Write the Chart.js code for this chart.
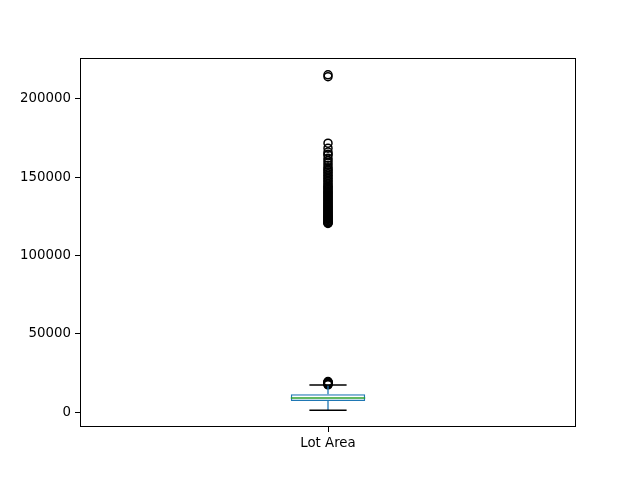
<!DOCTYPE html>
<html>
<head>
<meta charset="utf-8">
<script src="https://cdn.jsdelivr.net/npm/chart.js@4/dist/chart.umd.min.js"></script>
<style>html,body{margin:0;padding:0;background:#fff;}canvas{display:block;}</style>
</head>
<body>
<canvas id="c" width="640" height="480"></canvas>
<script>
// ---- data ----
const categories = ['Lot Area'];
const q1 = [7200];
const median = [9100];
const q3 = [11480];
const whiskerLow = [1300];
const whiskerHigh = [17400];
const outliers = [
  215245, 214000, 171600, 168400, 166000, 164600, 164000, 162000, 160500, 159000,
  157500, 156000, 155000, 154000, 153000, 152000, 151000, 150000, 149000, 148000,
  147000, 146000, 145000, 144200, 143500, 142800, 142000, 141300, 140600, 140000,
  139300, 138600, 138000, 137300, 136600, 136000, 135300, 134600, 134000, 133300,
  132600, 132000, 131400, 130800, 130200, 129600, 129000, 128400, 127800, 127200,
  126600, 126000, 125500, 125000, 124500, 124000, 123500, 123000, 122500, 122000,
  121500, 121000, 120700, 120400,
  17500, 17800, 18000, 18200, 18500, 18800, 19000, 19300, 19600
];
const yTicks = [0, 50000, 100000, 150000, 200000];

// ---- styles ----
const BOX_COLOR = '#1f77b4';
const MEDIAN_COLOR = '#2ca02c';
const WHISKER_COLOR = '#1f77b4';
const CAP_COLOR = '#000000';

Chart.defaults.font.family = "'DejaVu Sans', sans-serif";
Chart.defaults.font.size = 13.33;
Chart.defaults.color = '#000';

const boxPlugin = {
  id: 'boxParts',
  afterDatasetsDraw(chart) {
    const ctx = chart.ctx;
    const y = chart.scales.y;
    const meta = chart.getDatasetMeta(0);
    meta.data.forEach((bar, i) => {
      const cx = bar.x;
      const w = bar.width;
      ctx.save();
      ctx.lineWidth = 1.3;
      ctx.strokeStyle = WHISKER_COLOR;
      ctx.beginPath();
      ctx.moveTo(cx, y.getPixelForValue(q3[i]));
      ctx.lineTo(cx, y.getPixelForValue(whiskerHigh[i]));
      ctx.moveTo(cx, y.getPixelForValue(q1[i]));
      ctx.lineTo(cx, y.getPixelForValue(whiskerLow[i]));
      ctx.stroke();
      ctx.strokeStyle = CAP_COLOR;
      ctx.beginPath();
      ctx.moveTo(cx - w / 4, y.getPixelForValue(whiskerHigh[i]));
      ctx.lineTo(cx + w / 4, y.getPixelForValue(whiskerHigh[i]));
      ctx.moveTo(cx - w / 4, y.getPixelForValue(whiskerLow[i]));
      ctx.lineTo(cx + w / 4, y.getPixelForValue(whiskerLow[i]));
      ctx.stroke();
      ctx.strokeStyle = MEDIAN_COLOR;
      ctx.beginPath();
      ctx.moveTo(cx - w / 2, y.getPixelForValue(median[i]));
      ctx.lineTo(cx + w / 2, y.getPixelForValue(median[i]));
      ctx.stroke();
      ctx.restore();
    });
  },
  afterDraw(chart) {
    const a = chart.chartArea;
    const ctx = chart.ctx;
    ctx.save();
    ctx.strokeStyle = '#000';
    ctx.lineWidth = 1;
    ctx.strokeRect(Math.round(a.left) + 0.5, Math.round(a.top) + 0.5,
      Math.round(a.right - a.left) - 1, Math.round(a.bottom - a.top) - 1);
    ctx.restore();
  }
};

new Chart(document.getElementById('c'), {
  type: 'bar',
  data: {
    labels: categories,
    datasets: [
      {
        label: 'box',
        data: categories.map((c, i) => [q1[i], q3[i]]),
        backgroundColor: 'rgba(0,0,0,0)',
        borderColor: BOX_COLOR,
        borderWidth: 1.3,
        borderSkipped: false,
        barPercentage: 0.15,
        categoryPercentage: 1,
        order: 2
      },
      {
        type: 'line',
        label: 'outliers',
        data: outliers.map(v => ({ x: categories[0], y: v })),
        showLine: false,
        pointRadius: 4,
        pointHoverRadius: 4,
        pointBorderWidth: 1.5,
        pointBackgroundColor: 'rgba(0,0,0,0)',
        pointBorderColor: '#000',
        order: 1
      }
    ]
  },
  options: {
    responsive: false,
    animation: false,
    events: [],
    layout: { padding: { left: 0, top: 58, right: 64, bottom: 0 } },
    plugins: { legend: { display: false }, tooltip: { enabled: false } },
    scales: {
      x: {
        offset: true,
        grid: { display: true, drawOnChartArea: false, offset: false, color: '#000', tickLength: 5 },
        border: { display: false },
        ticks: { padding: 4, color: '#000' },
        afterFit(s) { s.height = 53; }
      },
      y: {
        min: -9397,
        max: 225942,
        grid: { display: true, drawOnChartArea: false, color: '#000', tickLength: 5 },
        border: { display: false },
        ticks: { padding: 4, color: '#000', includeBounds: false, callback: v => String(v) },
        afterBuildTicks(s) { s.ticks = yTicks.map(v => ({ value: v })); },
        afterFit(s) { s.width = 80; }
      }
    }
  },
  plugins: [boxPlugin]
});
</script>
</body>
</html>
